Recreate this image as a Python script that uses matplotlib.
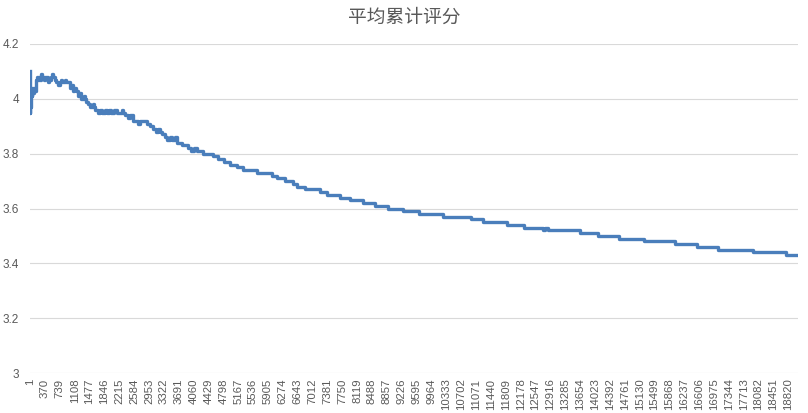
import numpy as np
import matplotlib
matplotlib.use("Agg")
import matplotlib.pyplot as plt

plt.rcParams['font.family'] = ['Noto Sans CJK SC', 'DejaVu Sans']

# number of ratings (categories on the x axis)
n_total = 19060

# step data: the cumulative average changes value at these rating indices
step_start = [
    1, 3, 6, 10, 15, 22, 30, 45, 60, 80, 100, 125, 145, 170, 200, 225, 250,
    280, 300, 340, 380, 447, 480, 514, 540, 575, 613, 650, 695, 735, 769, 800,
    860, 900, 993, 1030, 1067, 1100, 1140, 1191, 1230, 1266, 1330, 1360, 1390,
    1440, 1489, 1560, 1580, 1613, 1688, 1740, 1790, 1850, 1900, 1960, 2020,
    2090, 2150, 2283, 2320, 2350, 2432, 2482, 2557, 2681, 2720, 2904, 2978,
    3053, 3120, 3177, 3230, 3276, 3340, 3400, 3480, 3524, 3600, 3649, 3773,
    3922, 3990, 4070, 4140, 4294, 4535, 4674, 4815, 4964, 5138, 5287, 5635,
    5999, 6123, 6329, 6535, 6620, 6826, 7198, 7364, 7694, 7942, 8273, 8563,
    8893, 9258, 9662, 10258, 10945, 11236, 11847, 12269, 12740, 12782, 12849,
    13651, 14090, 14619, 15247, 16009, 16548, 17084, 17952, 18764,
]
step_value = [
    4.10, 3.95, 4.00, 3.97, 4.02, 3.99, 4.03, 4.01, 4.04, 4.02, 4.04, 4.03,
    4.07, 4.08, 4.07, 4.08, 4.07, 4.09, 4.08, 4.07, 4.08, 4.06, 4.07, 4.08,
    4.09, 4.08, 4.07, 4.06, 4.05, 4.06, 4.07, 4.06, 4.07, 4.06, 4.04, 4.05,
    4.03, 4.04, 4.03, 4.01, 4.02, 4.00, 4.01, 4.00, 3.99, 3.98, 3.97, 3.98,
    3.97, 3.96, 3.95, 3.96, 3.95, 3.96, 3.95, 3.96, 3.95, 3.96, 3.95, 3.96,
    3.95, 3.94, 3.93, 3.94, 3.92, 3.91, 3.92, 3.91, 3.90, 3.89, 3.88, 3.89,
    3.88, 3.87, 3.86, 3.85, 3.86, 3.85, 3.86, 3.84, 3.83, 3.82, 3.81, 3.82,
    3.81, 3.80, 3.79, 3.78, 3.77, 3.76, 3.75, 3.74, 3.73, 3.72, 3.71, 3.70,
    3.69, 3.68, 3.67, 3.66, 3.65, 3.64, 3.63, 3.62, 3.61, 3.60, 3.59, 3.58,
    3.57, 3.56, 3.55, 3.54, 3.53, 3.52, 3.53, 3.52, 3.51, 3.50, 3.49, 3.48,
    3.47, 3.46, 3.45, 3.44, 3.43,
]

title = '平均累计评分'
y_ticks = [3, 3.2, 3.4, 3.6, 3.8, 4, 4.2]
y_tick_labels = ['3', '3.2', '3.4', '3.6', '3.8', '4', '4.2']
x_tick_pos = list(range(1, n_total + 1, 369))
x_tick_labels = [str(v) for v in x_tick_pos]

fig = plt.figure(figsize=(8.08, 4.13), dpi=100)
ax = fig.add_axes([30 / 808, 1 - 373 / 413, 768 / 808, 329 / 413])

xs = step_start + [n_total]
ys = step_value + [step_value[-1]]
ax.step(xs, ys, where='post', color='#4a7ebb', linewidth=2.4, zorder=3)

ax.set_xlim(0.5, n_total + 0.5)
ax.set_ylim(3, 4.2)
ax.set_yticks(y_ticks)
ax.set_yticklabels(y_tick_labels)
ax.set_xticks(x_tick_pos)
ax.set_xticklabels(x_tick_labels, rotation=90)

for lab in ax.get_yticklabels() + ax.get_xticklabels():
    lab.set_family(['Liberation Sans', 'DejaVu Sans'])
ax.tick_params(axis='y', length=0, pad=8, labelsize=8.5, labelcolor='#595959')
ax.tick_params(axis='x', length=0, pad=4, labelsize=8.2, labelcolor='#595959')

ax.grid(axis='y', color='#d9d9d9', linewidth=0.8)
ax.set_axisbelow(True)
for s in ax.spines.values():
    s.set_visible(False)

fig.text(0.5, 1 - 17 / 413, title, ha='center', va='center',
         fontsize=13.5, color='#595959')

fig.savefig('out.png', dpi=100)
